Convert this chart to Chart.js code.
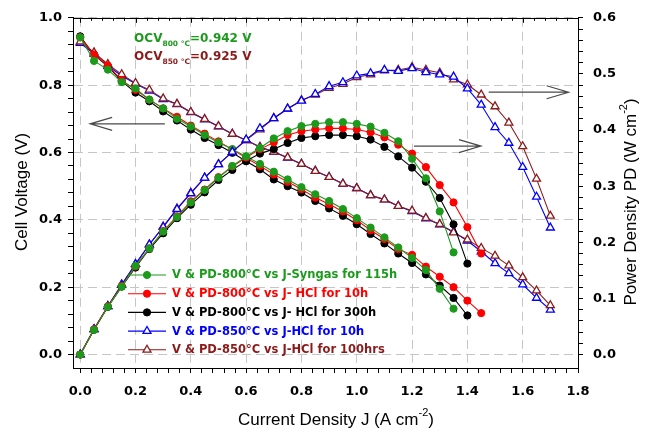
<!DOCTYPE html>
<html>
<head>
<meta charset="utf-8">
<script src="https://cdn.jsdelivr.net/npm/chart.js@4.4.0/dist/chart.umd.min.js"></script>
<style>
  html, body { margin: 0; padding: 0; background: #fff; }
  #wrap { width: 649px; height: 437px; }
</style>
</head>
<body>
<div id="wrap"><canvas id="c" width="649" height="437"></canvas></div>
<script>
// Current density J (A cm-2), shared by every series
const J = [0, 0.05, 0.1, 0.15, 0.2, 0.25, 0.3, 0.35, 0.4, 0.45, 0.5, 0.55, 0.6, 0.65, 0.7,
           0.75, 0.8, 0.85, 0.9, 0.95, 1.0, 1.05, 1.1, 1.15, 1.2, 1.25, 1.3, 1.35, 1.4, 1.45,
           1.5, 1.55, 1.6, 1.65, 1.7];

// 800 °C, syngas, 115 h
const vSyngas115 = [0.942, 0.872, 0.846, 0.809, 0.790, 0.757, 0.731, 0.700, 0.677, 0.652, 0.630, 0.610,
                    0.588, 0.566, 0.543, 0.520, 0.497, 0.476, 0.456, 0.432, 0.405, 0.377, 0.348, 0.318,
                    0.287, 0.251, 0.195, 0.136];
const pdSyngas115 = [0, 0.044, 0.085, 0.121, 0.158, 0.189, 0.219, 0.245, 0.271, 0.293, 0.315, 0.336,
                     0.353, 0.368, 0.385, 0.398, 0.407, 0.411, 0.414, 0.414, 0.411, 0.406, 0.395, 0.380,
                     0.349, 0.314, 0.255, 0.182];

// 800 °C, HCl, 10 h
const vHcl800_10 = [0.942, 0.891, 0.858, 0.815, 0.786, 0.757, 0.731, 0.706, 0.680, 0.656, 0.633, 0.609,
                    0.584, 0.560, 0.535, 0.513, 0.491, 0.466, 0.446, 0.425, 0.399, 0.369, 0.343, 0.313,
                    0.296, 0.261, 0.231, 0.200, 0.160, 0.123];
const pdHcl800_10 = [0, 0.045, 0.086, 0.122, 0.157, 0.189, 0.220, 0.246, 0.273, 0.294, 0.316, 0.335,
                     0.351, 0.366, 0.378, 0.391, 0.398, 0.401, 0.403, 0.403, 0.401, 0.396, 0.387, 0.374,
                     0.358, 0.334, 0.302, 0.271, 0.227, 0.180];

// 800 °C, HCl, 300 h
const vHcl800_300 = [0.945, 0.890, 0.856, 0.812, 0.778, 0.752, 0.722, 0.695, 0.668, 0.643, 0.622, 0.599,
                     0.574, 0.550, 0.520, 0.500, 0.481, 0.456, 0.434, 0.412, 0.387, 0.358, 0.330, 0.300,
                     0.272, 0.238, 0.205, 0.168, 0.116];
const pdHcl800_300 = [0, 0.044, 0.085, 0.121, 0.155, 0.188, 0.216, 0.243, 0.267, 0.289, 0.311, 0.329,
                      0.345, 0.358, 0.366, 0.377, 0.386, 0.389, 0.391, 0.391, 0.389, 0.383, 0.370, 0.353,
                      0.333, 0.308, 0.279, 0.232, 0.162];

// 850 °C, HCl, 10 h
const vHcl850_10 = [0.925, 0.893, 0.857, 0.828, 0.804, 0.783, 0.758, 0.743, 0.719, 0.698, 0.677, 0.655,
                    0.636, 0.616, 0.602, 0.584, 0.566, 0.545, 0.527, 0.507, 0.494, 0.473, 0.460, 0.441,
                    0.425, 0.404, 0.386, 0.364, 0.338, 0.306, 0.271, 0.241, 0.208, 0.168, 0.133];
const pdHcl850_10 = [0, 0.045, 0.086, 0.124, 0.161, 0.196, 0.227, 0.259, 0.287, 0.315, 0.339, 0.361,
                     0.383, 0.403, 0.421, 0.438, 0.452, 0.464, 0.478, 0.485, 0.497, 0.501, 0.507, 0.505,
                     0.510, 0.503, 0.499, 0.495, 0.474, 0.445, 0.405, 0.377, 0.334, 0.281, 0.226];

// 850 °C, HCl, 100 h
const vHcl850_100 = [0.929, 0.897, 0.862, 0.832, 0.806, 0.786, 0.760, 0.744, 0.720, 0.699, 0.678, 0.655,
                     0.636, 0.616, 0.602, 0.585, 0.566, 0.545, 0.527, 0.507, 0.494, 0.473, 0.460, 0.441,
                     0.427, 0.405, 0.387, 0.362, 0.341, 0.316, 0.293, 0.264, 0.229, 0.190, 0.146];
const pdHcl850_100 = [0, 0.045, 0.086, 0.125, 0.161, 0.196, 0.228, 0.260, 0.288, 0.315, 0.339, 0.361,
                      0.382, 0.401, 0.421, 0.438, 0.453, 0.463, 0.475, 0.482, 0.494, 0.499, 0.506, 0.507,
                      0.512, 0.507, 0.502, 0.490, 0.481, 0.463, 0.442, 0.413, 0.371, 0.313, 0.247];

// Legend labels
const seriesLabels = [
  'V & PD-800°C vs J-Syngas for 115h',
  'V & PD-800°C vs J- HCl for 10h',
  'V & PD-800°C vs J- HCl for 300h',
  'V & PD-850°C vs J-HCl for 10h',
  'V & PD-850°C vs J-HCl for 100hrs'
];

// Open-circuit voltages
const ocvTemps = ['800 °C', '850 °C'];
const ocvValues = [0.942, 0.925];

// Axis tick labels
const xTickValues = [0, 0.2, 0.4, 0.6, 0.8, 1.0, 1.2, 1.4, 1.6, 1.8];
const xTickLabels = ['0.0', '0.2', '0.4', '0.6', '0.8', '1.0', '1.2', '1.4', '1.6', '1.8'];
const vTickValues = [0, 0.2, 0.4, 0.6, 0.8, 1.0];
const vTickLabels = ['0.0', '0.2', '0.4', '0.6', '0.8', '1.0'];
const pdTickValues = [0, 0.1, 0.2, 0.3, 0.4, 0.5, 0.6];
const pdTickLabels = ['0.0', '0.1', '0.2', '0.3', '0.4', '0.5', '0.6'];

// ---- styling ----
const COLORS = ['#1c9a1c', '#ff0000', '#000000', '#0000ff', '#8b1a1a'];
const MARKERS = ['circle', 'circle', 'circle', 'triangle', 'triangle'];
const TICK_FONT = { family: "'DejaVu Sans', sans-serif", weight: 'bold', size: 13 };
const GRID_COLOR = '#c6c6c6';

function points(vals) { return vals.map((v, i) => ({ x: J[i], y: v })); }

// majors plus four minor subdivisions between neighbours
function withMinors(majors) {
  const out = [];
  for (let i = 0; i < majors.length; i++) {
    out.push(majors[i]);
    if (i < majors.length - 1) {
      const step = (majors[i + 1] - majors[i]) / 5;
      for (let k = 1; k < 5; k++) out.push(majors[i] + step * k);
    }
  }
  return out;
}
function majorIndex(list, v) { return list.findIndex(m => Math.abs(m - v) < 1e-9); }

function makeSet(label, vals, idx, axis) {
  const tri = MARKERS[idx] === 'triangle';
  return {
    label: label,
    data: points(vals),
    yAxisID: axis,
    borderColor: COLORS[idx],
    backgroundColor: COLORS[idx],
    borderWidth: 1.1,
    pointStyle: MARKERS[idx],
    pointRadius: tri ? 4.6 : 3.6,
    pointBorderWidth: tri ? 1.3 : 1,
    pointBorderColor: COLORS[idx],
    pointBackgroundColor: tri ? '#ffffff' : COLORS[idx],
    tension: 0,
    fill: false
  };
}

const datasets = [
  makeSet(seriesLabels[0], pdSyngas115, 0, 'pd'),
  makeSet(seriesLabels[1], pdHcl800_10, 1, 'pd'),
  makeSet(seriesLabels[2], pdHcl800_300, 2, 'pd'),
  makeSet(seriesLabels[3], pdHcl850_10, 3, 'pd'),
  makeSet(seriesLabels[4], pdHcl850_100, 4, 'pd'),
  makeSet(seriesLabels[0], vSyngas115, 0, 'v'),
  makeSet(seriesLabels[1], vHcl800_10, 1, 'v'),
  makeSet(seriesLabels[2], vHcl800_300, 2, 'v'),
  makeSet(seriesLabels[4], vHcl850_100, 4, 'v'),
  makeSet(seriesLabels[3], vHcl850_10, 3, 'v')
];

function gridColor(majors) {
  return ctx => (ctx.tick && majorIndex(majors, ctx.tick.value) >= 0) ? GRID_COLOR : 'rgba(0,0,0,0)';
}

// ---- decorations: frame top, arrows, OCV notes, legend, axis titles ----
const arrows = [
  { from: [0.306, 0.685], to: [0.036, 0.685] },
  { from: [1.207, 0.619], to: [1.449, 0.619] },
  { from: [1.477, 0.779], to: [1.766, 0.779] }
];
const ocvAnchor = [{ x: 0.195, y: 0.927 }, { x: 0.195, y: 0.875 }];
const ocvColors = ['#1c9a1c', '#8b1a1a'];

function drawMarker(ctx, style, color, x, y) {
  ctx.save();
  ctx.strokeStyle = color;
  if (style === 'circle') {
    ctx.fillStyle = color;
    ctx.lineWidth = 1;
    ctx.beginPath(); ctx.arc(x, y, 3.6, 0, Math.PI * 2); ctx.fill(); ctx.stroke();
  } else {
    const r = 4.6;
    ctx.fillStyle = '#fff';
    ctx.lineWidth = 1.3;
    ctx.beginPath();
    let a = 0;
    for (let k = 0; k < 3; k++) {
      const px = x + Math.sin(a) * r, py = y - Math.cos(a) * r;
      if (k === 0) ctx.moveTo(px, py); else ctx.lineTo(px, py);
      a += Math.PI * 2 / 3;
    }
    ctx.closePath(); ctx.fill(); ctx.stroke();
  }
  ctx.restore();
}

// text runs: [{t, size, dy}] drawn left to right on one baseline
function runsWidth(ctx, runs, family, weight) {
  let w = 0;
  runs.forEach(r => { ctx.font = `${weight} ${r.size}px ${family}`; w += ctx.measureText(r.t).width; });
  return w;
}
function drawRuns(ctx, runs, x, y, family, weight) {
  let cx = x;
  runs.forEach(r => {
    ctx.font = `${weight} ${r.size}px ${family}`;
    ctx.fillText(r.t, cx, y + (r.dy || 0));
    cx += ctx.measureText(r.t).width;
  });
}

const TITLE_FAMILY = "'Liberation Sans', Arial, sans-serif";
const titles = [
  { runs: [{ t: 'Current Density J (A cm', size: 17 }, { t: '-2', size: 11, dy: -7 }, { t: ')', size: 17 }], cx: 336, cy: 420, rot: 0 },
  { runs: [{ t: 'Cell Voltage (V)', size: 17 }], cx: 22, cy: 192, rot: -Math.PI / 2 },
  { runs: [{ t: 'Power Density PD (W cm', size: 17 }, { t: '-2', size: 11, dy: -7 }, { t: ')', size: 17 }], cx: 631, cy: 202, rot: -Math.PI / 2 }
];

const legendBox = { lineX0: 128, lineX1: 166, textX: 172, rowY0: 275, rowGap: 18.7 };

const decoPlugin = {
  id: 'deco',
  afterDatasetsDraw(chart) {
    const { ctx, chartArea: a } = chart;
    const xs = chart.scales.x, ys = chart.scales.v;
    ctx.save();

    // top frame with inward ticks
    ctx.strokeStyle = '#000';
    ctx.lineWidth = 1;
    ctx.beginPath();
    ctx.moveTo(a.left, Math.round(a.top) + 0.5);
    ctx.lineTo(a.right, Math.round(a.top) + 0.5);
    xs.ticks.forEach(t => {
      const px = Math.round(xs.getPixelForValue(t.value)) + 0.5;
      const len = majorIndex(xTickValues, t.value) >= 0 ? 5 : 3;
      ctx.moveTo(px, a.top);
      ctx.lineTo(px, a.top + len);
    });
    ctx.stroke();

    // pointer arrows
    ctx.strokeStyle = '#4a4a4a';
    ctx.lineWidth = 1.2;
    arrows.forEach(ar => {
      const x1 = xs.getPixelForValue(ar.from[0]), y1 = ys.getPixelForValue(ar.from[1]);
      const x2 = xs.getPixelForValue(ar.to[0]), y2 = ys.getPixelForValue(ar.to[1]);
      const ang = Math.atan2(y2 - y1, x2 - x1);
      const hl = 22, hw = 6.5;
      const bx = x2 - Math.cos(ang) * hl, by = y2 - Math.sin(ang) * hl;
      const nx = -Math.sin(ang) * hw, ny = Math.cos(ang) * hw;
      ctx.beginPath();
      ctx.moveTo(x1, y1); ctx.lineTo(x2, y2);
      ctx.moveTo(bx + nx, by + ny); ctx.lineTo(x2, y2); ctx.lineTo(bx - nx, by - ny);
      ctx.stroke();
    });

    // OCV notes
    const NOTE_FAMILY = "'DejaVu Sans', sans-serif";
    ctx.textBaseline = 'alphabetic';
    ctx.textAlign = 'left';
    ocvAnchor.forEach((p, i) => {
      ctx.fillStyle = ocvColors[i];
      drawRuns(ctx, [
        { t: 'OCV', size: 12 },
        { t: ocvTemps[i], size: 7.5, dy: 4 },
        { t: '=' + ocvValues[i].toFixed(3) + ' V', size: 12 }
      ], xs.getPixelForValue(p.x), ys.getPixelForValue(p.y), NOTE_FAMILY, 'bold');
    });

    // legend
    ctx.textBaseline = 'middle';
    seriesLabels.forEach((lab, i) => {
      const y = legendBox.rowY0 + i * legendBox.rowGap;
      ctx.strokeStyle = COLORS[i];
      ctx.lineWidth = 1.1;
      ctx.beginPath(); ctx.moveTo(legendBox.lineX0, y); ctx.lineTo(legendBox.lineX1, y); ctx.stroke();
      drawMarker(ctx, MARKERS[i], COLORS[i], (legendBox.lineX0 + legendBox.lineX1) / 2, y);
      ctx.fillStyle = COLORS[i];
      ctx.font = `bold 11.5px ${NOTE_FAMILY}`;
      ctx.fillText(lab, legendBox.textX, y + 0.5);
    });

    // axis titles
    ctx.fillStyle = '#000';
    ctx.textBaseline = 'middle';
    titles.forEach(tt => {
      const w = runsWidth(ctx, tt.runs, TITLE_FAMILY, 'normal');
      ctx.save();
      ctx.translate(tt.cx, tt.cy);
      ctx.rotate(tt.rot);
      drawRuns(ctx, tt.runs, -w / 2, 0, TITLE_FAMILY, 'normal');
      ctx.restore();
    });

    ctx.restore();
  }
};

new Chart(document.getElementById('c'), {
  type: 'line',
  data: { datasets: datasets },
  plugins: [decoPlugin],
  options: {
    responsive: false,
    animation: false,
    devicePixelRatio: 1,
    layout: { padding: { top: 16, left: 0, right: 0, bottom: 0 } },
    plugins: { legend: { display: false }, tooltip: { enabled: false } },
    scales: {
      x: {
        type: 'linear', position: 'bottom', min: -0.026, max: 1.8,
        afterBuildTicks: s => { s.ticks = withMinors(xTickValues).map(v => ({ value: v })); },
        afterFit: s => { s.height = 69; },
        ticks: {
          autoSkip: false, maxRotation: 0, minRotation: 0, padding: 11, color: '#000', font: TICK_FONT,
          callback: v => { const k = majorIndex(xTickValues, v); return k >= 0 ? xTickLabels[k] : ''; }
        },
        grid: { color: gridColor(xTickValues), lineWidth: 1, tickColor: '#000', tickLength: 5 },
        border: { color: '#000', width: 1, dash: [9, 5] }
      },
      v: {
        type: 'linear', position: 'left', min: -0.04, max: 1.0,
        afterBuildTicks: s => { s.ticks = withMinors(vTickValues).map(v => ({ value: v })); },
        afterFit: s => { s.width = 73; },
        ticks: {
          autoSkip: false, padding: 6, color: '#000', font: TICK_FONT,
          callback: v => { const k = majorIndex(vTickValues, v); return k >= 0 ? vTickLabels[k] : ''; }
        },
        grid: { color: gridColor(vTickValues), lineWidth: 1, tickColor: '#000', tickLength: 5 },
        border: { color: '#000', width: 1, dash: [9, 5] }
      },
      pd: {
        type: 'linear', position: 'right', min: -0.024, max: 0.6,
        afterBuildTicks: s => { s.ticks = withMinors(pdTickValues).map(v => ({ value: v })); },
        afterFit: s => { s.width = 71; },
        ticks: {
          autoSkip: false, padding: 10, color: '#000', font: TICK_FONT,
          callback: v => { const k = majorIndex(pdTickValues, v); return k >= 0 ? pdTickLabels[k] : ''; }
        },
        grid: { drawOnChartArea: false, tickColor: '#000', tickLength: 5 },
        border: { color: '#000', width: 1 }
      }
    }
  }
});
</script>
</body>
</html>
